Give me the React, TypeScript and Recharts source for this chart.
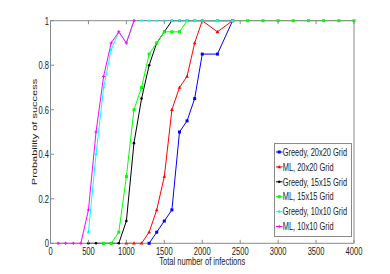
import React from 'react'
import { LineChart, Line, XAxis, YAxis, Legend } from 'recharts'

const X_VALUES = [
  100, 200, 300, 400, 500, 600, 700, 800, 900, 1000,
  1100, 1200, 1300, 1400, 1500, 1600, 1700, 1800, 1900, 2000,
  2200, 2400, 2600, 2800, 3000, 3200, 3400, 3600, 3800, 4000,
]

const N = null
const GREEDY_20 = [N, N, N, N, N, N, N, N, N, N, N, N, 0, 0.05, 0.1, 0.15, 0.5, 0.55, 0.65, 0.85, 0.85, 1, N, N, N, N, N, N, N, N]
const ML_20 = [N, N, N, N, N, N, N, N, N, 0, 0, 0, 0.05, 0.15, 0.3, 0.6, 0.7, 0.75, 0.9, 1, 0.95, 1, N, N, N, N, N, N, N, N]
const GREEDY_15 = [N, N, N, N, 0, 0, 0, 0, 0, 0.1, 0.45, 0.65, 0.8, 0.9, 0.95, 1, 1, 1, 1, 1, 1, 1, N, N, N, N, N, N, N, N]
const ML_15 = [N, N, N, N, N, N, 0, 0, 0.05, 0.3, 0.6, 0.7, 0.85, 0.9, 0.95, 0.95, 0.95, 1, 1, 1, 1, 1, 1, 1, 1, 1, 1, 1, 1, 1]
const GREEDY_10 = [N, N, N, N, 0.05, 0.4, 0.7, 0.87, 0.95, 0.9, 1, 1, 1, 1, 1, 1, 1, 1, 1, 1, 1, 1, N, N, N, N, N, N, N, N]
const ML_10 = [0, 0, 0, 0, 0.15, 0.5, 0.75, 0.9, 0.95, 0.9, 1, N, N, N, N, N, N, N, N, N, N, N, N, N, N, N, N, N, N, N]

const X_TICKS = [0, 500, 1000, 1500, 2000, 2500, 3000, 3500, 4000]
const Y_TICKS = [0, 0.2, 0.4, 0.6, 0.8, 1]

const SERIES = [
  { key: 'g20', name: 'Greedy, 20x20 Grid', color: '#0000ff', shape: 'square' },
  { key: 'm20', name: 'ML, 20x20 Grid', color: '#ff0000', shape: 'triangle' },
  { key: 'g15', name: 'Greedy, 15x15 Grid', color: '#000000', shape: 'dot' },
  { key: 'm15', name: 'ML, 15x15 Grid', color: '#00ff00', shape: 'square' },
  { key: 'g10', name: 'Greedy, 10x10 Grid', color: '#00ffff', shape: 'dot' },
  { key: 'm10', name: 'ML, 10x10 Grid', color: '#ff00ff', shape: 'plus' },
]

const data = X_VALUES.map((x, i) => ({
  x,
  g20: GREEDY_20[i],
  m20: ML_20[i],
  g15: GREEDY_15[i],
  m15: ML_15[i],
  g10: GREEDY_10[i],
  m10: ML_10[i],
}))

const AXIS = '#8a8a8a'
const TEXT = '#222'
const FONT = '"Liberation Sans", Arial, Helvetica, sans-serif'
const SQUISH = 0.72

function marker(shape: string, cx: number, cy: number, color: string, key?: string) {
  if (shape === 'square') return <rect key={key} x={cx - 1.5} y={cy - 1.5} width={3} height={3} fill={color} />
  if (shape === 'triangle')
    return <polygon key={key} points={`${cx},${cy - 2} ${cx - 1.8},${cy + 1.3} ${cx + 1.8},${cy + 1.3}`} fill={color} />
  if (shape === 'plus')
    return (
      <g key={key} stroke={color} strokeWidth={1}>
        <line x1={cx - 1.6} y1={cy} x2={cx + 1.6} y2={cy} />
        <line x1={cx} y1={cy - 1.6} x2={cx} y2={cy + 1.6} />
      </g>
    )
  return <circle key={key} cx={cx} cy={cy} r={1.3} fill={color} />
}

const makeDot = (shape: string, color: string) => (props: any) => {
  const { cx, cy, index } = props
  if (cx == null || cy == null || props.value == null) return <g key={`e${index}`} />
  return marker(shape, cx, cy, color, `d${index}`)
}

const BottomTick = ({ x, y, payload }: any) => (
  <g>
    <line x1={x} y1={y} x2={x} y2={y - 3.5} stroke={AXIS} />
    <text transform={`translate(${x},${y + 11.7}) scale(${SQUISH},1)`} textAnchor="middle" fontSize={10.5} fontFamily={FONT} fill={TEXT}>
      {payload.value}
    </text>
  </g>
)

const TopTick = ({ x, y }: any) => <line x1={x} y1={y} x2={x} y2={y + 3.5} stroke={AXIS} />

const LeftTick = ({ x, y, payload }: any) => (
  <g>
    <line x1={x} y1={y} x2={x + 3.5} y2={y} stroke={AXIS} />
    <text transform={`translate(${x - 1.5},${y + 3.8}) scale(${SQUISH},1)`} textAnchor="end" fontSize={10.5} fontFamily={FONT} fill={TEXT}>
      {payload.value}
    </text>
  </g>
)

const RightTick = ({ x, y }: any) => <line x1={x} y1={y} x2={x - 3.5} y2={y} stroke={AXIS} />

const XLabel = ({ viewBox }: any) => (
  <text transform={`translate(${viewBox.x + viewBox.width / 2},${viewBox.y + 21.7}) scale(${SQUISH},1)`} textAnchor="middle" fontSize={10.5} fontFamily={FONT} fill={TEXT}>
    Total number of infections
  </text>
)

const YLabel = ({ viewBox }: any) => (
  <text transform={`translate(37.3,${viewBox.y + viewBox.height / 2}) scale(${SQUISH},1) rotate(-90)`} textAnchor="middle" fontSize={11} fontFamily={FONT} fill={TEXT}>
    Probability of success
  </text>
)

const LegendBox = () => (
  <svg width={78} height={94} style={{ display: 'block' }}>
    <rect x={0.5} y={0.5} width={77} height={93} fill="#fff" stroke={AXIS} />
    {SERIES.map((s, i) => {
      const cy = 9 + i * 14.9
      return (
        <g key={s.key}>
          <line x1={2} y1={cy} x2={8.5} y2={cy} stroke={s.color} />
          {marker(s.shape, 5.2, cy, s.color)}
          <text transform={`translate(8.7,${cy + 3.7}) scale(0.71,1)`} fontSize={10.5} fontFamily={FONT} fill={TEXT}>
            {s.name}
          </text>
        </g>
      )
    })}
  </svg>
)

export default function App() {
  return (
    <div style={{ position: 'absolute', left: 0, top: 0, width: 390, height: 274, background: '#fff' }}>
      <LineChart width={390} height={274} data={data} margin={{ top: 19.7, right: 35, bottom: 0, left: 0 }}>
        <XAxis
          dataKey="x"
          type="number"
          domain={[0, 4000]}
          ticks={X_TICKS}
          interval={0}
          height={30.7}
          tickSize={0}
          tickMargin={0}
          stroke={AXIS}
          tickLine={false}
          tick={<BottomTick />}
          label={<XLabel />}
        />
        <XAxis
          xAxisId="top"
          orientation="top"
          dataKey="x"
          type="number"
          domain={[0, 4000]}
          ticks={X_TICKS}
          interval={0}
          height={1}
          tickSize={0}
          tickMargin={0}
          stroke={AXIS}
          tickLine={false}
          tick={<TopTick />}
        />
        <YAxis
          type="number"
          domain={[0, 1]}
          ticks={Y_TICKS}
          interval={0}
          width={50.5}
          tickSize={0}
          tickMargin={0}
          stroke={AXIS}
          tickLine={false}
          tick={<LeftTick />}
          label={<YLabel />}
        />
        <YAxis
          yAxisId="right"
          orientation="right"
          type="number"
          domain={[0, 1]}
          ticks={Y_TICKS}
          interval={0}
          width={1}
          tickSize={0}
          tickMargin={0}
          stroke={AXIS}
          tickLine={false}
          tick={<RightTick />}
        />
        <Legend
          layout="vertical"
          align="center"
          verticalAlign="middle"
          wrapperStyle={{ left: 274, top: 143, width: 78, height: 94 }}
          content={<LegendBox />}
        />
        {SERIES.map((s) => (
          <Line
            key={s.key}
            dataKey={s.key}
            name={s.name}
            stroke={s.color}
            strokeWidth={1}
            dot={makeDot(s.shape, s.color)}
            activeDot={false}
            connectNulls={false}
            isAnimationActive={false}
          />
        ))}
      </LineChart>
    </div>
  )
}
